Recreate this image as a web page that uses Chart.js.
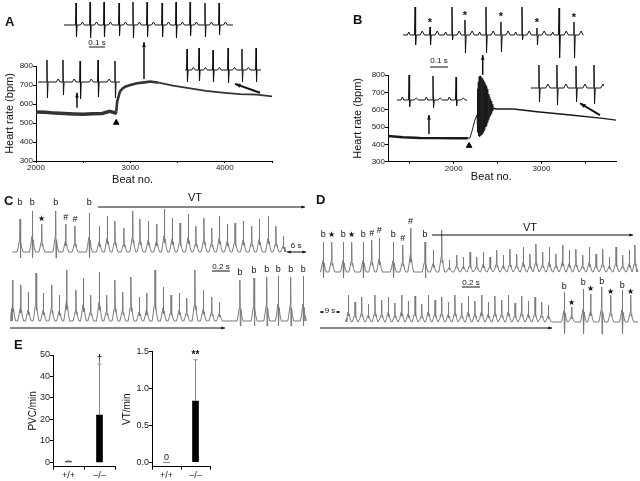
<!DOCTYPE html>
<html>
<head>
<meta charset="utf-8">
<script src="https://cdn.jsdelivr.net/npm/chart.js@4.4.0/dist/chart.umd.min.js"></script>
<style>
  body { margin: 0; background: #fff; }
  #fig { position: relative; width: 640px; height: 481px; overflow: hidden; font-family: "Liberation Sans", Arial, sans-serif; }
  #fig canvas { position: absolute; }
  .tag { position: absolute; font-weight: bold; font-size: 13px; line-height: 13px; color: #111; }
</style>
</head>
<body>
<div id="fig">
  <canvas id="hrA" width="300" height="195" style="left:0;top:0"></canvas>
  <canvas id="hrB" width="310" height="195" style="left:330px;top:0"></canvas>
  <canvas id="insA1" width="176" height="50" style="left:60px;top:0"></canvas>
  <canvas id="insA2" width="84" height="48" style="left:36px;top:55px"></canvas>
  <canvas id="insA3" width="78" height="40" style="left:183px;top:45px"></canvas>
  <canvas id="insB1" width="188" height="72" style="left:400px;top:0"></canvas>
  <canvas id="insB2" width="75" height="40" style="left:395px;top:70px"></canvas>
  <canvas id="insB3" width="76" height="50" style="left:528px;top:60px"></canvas>
  <canvas id="ecgC1" width="300" height="72" style="left:10px;top:188px"></canvas>
  <canvas id="ecgC2" width="300" height="73" style="left:10px;top:262px"></canvas>
  <canvas id="ecgD1" width="324" height="65" style="left:316px;top:215px"></canvas>
  <canvas id="ecgD2" width="324" height="64" style="left:316px;top:274px"></canvas>
  <canvas id="barE1" width="105" height="136" style="left:20px;top:345px"></canvas>
  <canvas id="barE2" width="100" height="136" style="left:115px;top:345px"></canvas>
  <div class="tag" style="left:5px;top:15px">A</div>
  <div class="tag" style="left:353px;top:13px">B</div>
  <div class="tag" style="left:4px;top:194px">C</div>
  <div class="tag" style="left:316px;top:193px">D</div>
  <div class="tag" style="left:14px;top:338px">E</div>
</div>
<script>
// ---- A: heart rate vs beat number
const aBeats = [2000, 2100, 2200, 2300, 2400, 2500, 2600, 2700, 2780, 2840, 2850, 2860, 2875, 2890, 2920, 2950, 3000, 3070, 3150, 3210, 3300, 3450, 3600, 3800, 4000, 4160, 4340, 4500];
const aRate = [558, 556, 552, 550, 548, 546, 549, 550, 561, 553, 560, 613, 640, 666, 683, 692, 700, 709, 714, 718, 712, 697, 685, 669, 659, 652, 649, 640];
const aTicksX = [2000, 2500, 3000, 3500, 4000, 4500];
const aTicksY = [300, 400, 500, 600, 700, 800];

// ---- B: heart rate vs beat number (burst around beat 2300)
const bBeats = [1250, 1420, 1615, 1800, 2000, 2160, 2185, 2210, 2240, 2265,
  2270, 2275, 2280, 2285, 2290, 2295, 2300, 2305, 2310, 2315,
  2320, 2325, 2330, 2335, 2340, 2345, 2350, 2355, 2360, 2365,
  2370, 2375, 2380, 2385, 2390, 2395, 2400, 2405, 2410, 2415,
  2420, 2425, 2430, 2435, 2440, 2445, 2450,
  2480, 2680, 2950, 3330, 3700, 3850];
const bRate = [448, 441, 437, 436, 435, 435, 437, 480, 540, 570,
  720, 470, 760, 450, 790, 445, 795, 450, 790, 455,
  785, 460, 780, 470, 770, 480, 760, 490, 745, 500,
  735, 510, 720, 525, 705, 540, 690, 555, 675, 565,
  660, 575, 650, 585, 630, 595, 610,
  604, 604, 588, 569, 550, 540];
const bTicksX = [1500, 2000, 2500, 3000, 3500];
const bTicksY = [300, 400, 500, 600, 700, 800];

// ---- ECG insets (time in s, amplitude in arbitrary units)
const aTopT = [0.075, 0.163, 0.25, 0.344, 0.431, 0.519, 0.613, 0.7, 0.788, 0.881, 0.969];
const aTopUp = [22, 23, 23, 22, 23, 23, 22, 23, 23, 22, 22];
const aTopDown = [12, 13, 12, 11, 13, 12, 12, 13, 11, 12, 10];
const aLeftT = [0.056, 0.156, 0.263, 0.375, 0.481];
const aLeftUp = [22, 22, 21, 22, 21];
const aLeftDown = [16, 13, 17, 15, 16];
const aRightT = [0.0125, 0.0875, 0.175, 0.269, 0.356, 0.444];
const aRightUp = [21, 22, 20, 22, 21, 22];
const aRightDown = [12, 11, 12, 13, 12, 12];

const bTopT = [0.067, 0.150, 0.272, 0.344, 0.461, 0.544, 0.661, 0.744, 0.867, 0.950];
const bTopUp = [28, 8, 28, 15, 28, 13, 28, 7, 27, 13];
const bTopDown = [10, 10, 5, 18, 18, 17, 5, 10, 23, 23];
const bTopP = [3, 0, 3, 0, 3, 0, 3, 0, 3, 0];
const bTopStars = [[1, 12], [3, 19], [5, 18], [7, 12], [9, 17]];
const bLeftT = [0.067, 0.2, 0.328];
const bLeftUp = [25, 24, 23];
const bLeftDown = [7, 8, 6];
const bRightT = [0.044, 0.144, 0.25, 0.35];
const bRightUp = [23, 23, 22, 23];
const bRightDown = [14, 17, 14, 16];

// ---- C / D telemetry traces (beat time in s, peak amplitude)
const cTopT = [0.089, 0.226, 0.330, 0.485, 0.596, 0.700, 0.859,
  0.970, 1.059, 1.144, 1.244, 1.341, 1.422, 1.515, 1.607, 1.693, 1.781, 1.867, 1.959,
  2.044, 2.133, 2.219, 2.304, 2.393, 2.478, 2.570, 2.663, 2.748, 2.848, 2.933, 3.015];
const cTopAmp = [33, 41, 28, 41, 28, 26, 39,
  26, 36, 31, 24, 41, 33, 31, 28, 43, 34, 29, 38, 26, 34, 24, 36, 28, 29, 31, 26, 33, 36, 26, 16];
const cTopMarks = [[0, 'b', 49], [1, 'b', 49], [2, '★', 33], [3, 'b', 49], [4, '#', 34], [5, '#', 32], [6, 'b', 49]];

const cBotT = [0.007, 0.096, 0.181, 0.267, 0.348, 0.441, 0.526, 0.607, 0.711, 0.793, 0.874, 0.970, 1.052, 1.144,
  1.230, 1.322, 1.415, 1.496, 1.589, 1.681, 1.767, 1.859, 1.941, 2.033, 2.126, 2.219, 2.304,
  2.533, 2.689, 2.830, 2.959, 3.096, 3.237];
const cBotAmp = [41, 36, 29, 48, 28, 36, 26, 51, 31, 43, 26, 49, 26, 41, 29, 44, 24, 28, 51, 34, 26, 28, 23, 51, 31, 24, 19,
  41, 43, 44, 45, 44, 45];
const cBotMarks = [[27, 'b', 48], [28, 'b', 50], [29, 'b', 51], [30, 'b', 51], [31, 'b', 51], [32, 'b', 51]];

const dTopT = [0.037, 0.130, 0.259, 0.352, 0.481, 0.574, 0.659, 0.815, 0.919, 1.007, 1.167,
  1.259, 1.352, 1.437, 1.519, 1.593, 1.667, 1.741, 1.815, 1.889, 1.963, 2.037, 2.111, 2.185, 2.259, 2.333,
  2.400, 2.474, 2.548, 2.622, 2.696, 2.770, 2.844, 2.919, 2.993, 3.067, 3.141, 3.215, 3.289, 3.363, 3.437, 3.500];
const dTopAmp = [30, 30, 30, 30, 30, 32, 34, 30, 27, 44, 30,
  22, 42, 12, 17, 15, 20, 15, 20, 15, 22, 17, 23, 18, 25, 18, 28, 20, 25, 18, 27, 22, 23, 17, 25, 18, 23, 15, 25, 17, 22, 27];
const dTopMarks = [[0, 'b', 37], [1, '★', 37], [2, 'b', 37], [3, '★', 37], [4, 'b', 37], [5, '#', 38], [6, '#', 41],
  [7, 'b', 37], [8, '#', 33], [9, '#', 50], [10, 'b', 37]];

const dBotT = [0.315, 0.389, 0.463, 0.537, 0.611, 0.685, 0.759, 0.833, 0.907, 0.981, 1.056, 1.130, 1.204, 1.278,
  1.352, 1.426, 1.500, 1.574, 1.648, 1.722, 1.796, 1.870, 1.944, 2.019, 2.093, 2.167, 2.241, 2.315, 2.389, 2.463, 2.537,
  2.715, 2.796, 2.926, 3.007, 3.130, 3.230, 3.359, 3.452];
const dBotAmp = [27, 20, 25, 18, 27, 22, 25, 19, 27, 21, 26, 18, 27, 22, 25, 20, 27, 19, 26, 21, 27, 20, 26, 22, 27, 19,
  26, 21, 25, 20, 17, 30, 15, 33, 28, 35, 27, 32, 27];
const dBotMarks = [[31, 'b', 35], [32, '★', 19], [33, 'b', 39], [34, '★', 33], [35, 'b', 40], [36, '★', 30], [37, 'b', 36], [38, '★', 30]];

// ---- E: arrhythmia counts
const eGroups = ['+/+', '–/–'];
const ePvc = [0.4, 22];
const ePvcErr = [0.3, 23.8];
const ePvcTicks = [0, 10, 20, 30, 40, 50];
const eVt = [0, 0.83];
const eVtErr = [0, 0.56];
const eVtTicks = [0, 0.5, 1.0, 1.5];

const FONT = '"Liberation Sans", Arial, sans-serif';
Chart.defaults.font.family = FONT;
Chart.defaults.font.size = 8;
Chart.defaults.color = '#111';

// black ECG: narrow biphasic spike, optional P and T bumps
function inkTrace(times, up, down, end, o) {
  const pts = [{x: 0, y: 0}];
  times.forEach((t, i) => {
    const p = o.p ? o.p[i] : 0;
    if (p) pts.push({x: t - o.pOff - 0.008, y: 0}, {x: t - o.pOff, y: p}, {x: t - o.pOff + 0.008, y: 0});
    pts.push({x: t - 0.003, y: 0}, {x: t, y: up[i]}, {x: t + 0.003, y: -down[i]}, {x: t + 0.007, y: 0});
    if (o.tw) pts.push({x: t + o.tOff - 0.012, y: 0}, {x: t + o.tOff, y: o.tw}, {x: t + o.tOff + 0.012, y: 0});
  });
  pts.push({x: end, y: 0});
  return pts.sort((a, b) => a.x - b.x);
}

// grey telemetry: spike on a rounded hump; sinus ('b') beats dip below baseline
function greyTrace(times, amp, marks, bDip, start, end) {
  const sinus = new Set(marks.filter(m => m[1] === 'b').map(m => m[0]));
  const pts = [{x: start, y: 0}];
  times.forEach((t, i) => {
    const h = amp[i], d = sinus.has(i) ? bDip : 0;
    pts.push({x: t - 0.032, y: 0}, {x: t - 0.02, y: 0.14 * h}, {x: t - 0.01, y: 0.3 * h}, {x: t - 0.003, y: 0.38 * h},
      {x: t, y: h}, {x: t + 0.004, y: d ? -d : 0.22 * h}, {x: t + 0.01, y: 0.3 * h}, {x: t + 0.02, y: 0.12 * h}, {x: t + 0.034, y: 0});
  });
  pts.push({x: end, y: 0});
  return pts.sort((a, b) => a.x - b.x);
}

function markTexts(times, marks) {
  return marks.map(([i, s, h]) => ({at: [times[i], h], text: s,
    font: s === '★' ? '8px "DejaVu Sans"' : '9px ' + FONT}));
}

function drawArrow(ctx, x0, y0, x1, y1, w, head, both) {
  ctx.lineWidth = w;
  ctx.beginPath(); ctx.moveTo(x0, y0); ctx.lineTo(x1, y1); ctx.stroke();
  const tips = both ? [[x1, y1, x0, y0], [x0, y0, x1, y1]] : [[x1, y1, x0, y0]];
  tips.forEach(([tx, ty, fx, fy]) => {
    const ang = Math.atan2(ty - fy, tx - fx);
    ctx.beginPath();
    ctx.moveTo(tx, ty);
    ctx.lineTo(tx - head * Math.cos(ang - 0.38), ty - head * Math.sin(ang - 0.38));
    ctx.lineTo(tx - head * Math.cos(ang + 0.38), ty - head * Math.sin(ang + 0.38));
    ctx.closePath(); ctx.fill();
  });
}

// arrows, scale bars and labels placed in data units
const notes = {
  id: 'notes',
  afterDraw(chart, args, o) {
    const {ctx} = chart, sx = chart.scales.x, sy = chart.scales.y;
    const px = v => sx.getPixelForValue(v), py = v => sy.getPixelForValue(v);
    ctx.save();
    ctx.strokeStyle = ctx.fillStyle = '#111';
    (o.arrows || []).forEach(a => drawArrow(ctx, px(a.from[0]), py(a.from[1]), px(a.to[0]), py(a.to[1]), a.width || 1, a.head || 4, a.both));
    (o.scaleBars || []).forEach(b => {
      ctx.lineWidth = 1;
      ctx.beginPath(); ctx.moveTo(px(b[0]), py(b[2])); ctx.lineTo(px(b[1]), py(b[2])); ctx.stroke();
    });
    ctx.textAlign = 'center'; ctx.textBaseline = 'middle';
    (o.texts || []).forEach(t => {
      ctx.font = t.font || '8px ' + FONT;
      const x = px(t.at[0]), y = py(t.at[1]);
      if (t.clear) {
        const w = ctx.measureText(t.text).width + 2;
        ctx.fillStyle = '#fff'; ctx.fillRect(x - w / 2, y - 5, w, 10); ctx.fillStyle = '#111';
      }
      ctx.fillText(t.text, x, y);
    });
    ctx.restore();
  }
};

function traceChart(id, pts, xr, yr, color, note) {
  return new Chart(document.getElementById(id), {
    type: 'line',
    data: { datasets: [{ data: pts, borderColor: color, borderWidth: 1, pointRadius: 0, tension: 0 }] },
    options: {
      responsive: false, animation: false,
      layout: { padding: 0, autoPadding: false },
      scales: {
        x: { type: 'linear', display: false, min: xr[0], max: xr[1] },
        y: { display: false, min: yr[0], max: yr[1] }
      },
      plugins: { legend: { display: false }, tooltip: { enabled: false }, notes: note || {} }
    },
    plugins: [notes]
  });
}

function axisX(min, max, ticks, height, title) {
  return {
    type: 'linear', min: min, max: max,
    afterBuildTicks: s => { s.ticks = ticks.map(v => ({value: v})); },
    afterFit: s => { s.height = height; },
    ticks: { callback: v => (v % 1000 ? '' : v), padding: 0, maxRotation: 0, autoSkip: false, color: '#222' },
    grid: { drawOnChartArea: false, tickLength: 2, color: '#000' },
    border: { color: '#000' },
    title: { display: true, text: title, font: { size: 11 }, padding: 0, color: '#111' }
  };
}

function axisY(ticks, width, titlePad) {
  return {
    min: ticks[0], max: ticks[ticks.length - 1],
    afterBuildTicks: s => { s.ticks = ticks.map(v => ({value: v})); },
    afterFit: s => { s.width = width; },
    ticks: { padding: 0, color: '#222' },
    grid: { drawOnChartArea: false, tickLength: 3, color: '#000' },
    border: { color: '#000' },
    title: { display: true, text: 'Heart rate (bpm)', font: { size: 11 }, padding: { top: titlePad, bottom: 0 }, color: '#111' }
  };
}

// ---- A main
new Chart(document.getElementById('hrA'), {
  type: 'line',
  data: { datasets: [
    { data: aBeats.map((b, i) => ({x: b, y: aRate[i]})), borderColor: '#333', borderWidth: 2, pointRadius: 0,
      segment: { borderWidth: c => (c.p0.parsed.x < 2850 ? 3.5 : c.p0.parsed.x < 3300 ? 2.6 : 1.8) } },
    { data: [{x: 2850, y: 502}], showLine: false, pointStyle: 'triangle', pointRadius: 3.2, backgroundColor: '#000', borderColor: '#000' }
  ]},
  options: {
    responsive: false, animation: false,
    layout: { padding: { top: 66, right: 28, bottom: 8, left: 0 }, autoPadding: false },
    scales: { x: axisX(2000, 4500, aTicksX, 26, 'Beat no.' + '\u00a0'.repeat(14)), y: axisY(aTicksY, 36, 3) },
    plugins: { legend: { display: false }, tooltip: { enabled: false },
      notes: { arrows: [
        { from: [2434, 580], to: [2434, 659], width: 1.5, head: 5 },
        { from: [3144, 732], to: [3144, 925], width: 1.5, head: 5 },
        { from: [4373, 659], to: [4108, 706], width: 2, head: 6 }
      ] } }
  },
  plugins: [notes]
});

// ---- B main
new Chart(document.getElementById('hrB'), {
  type: 'line',
  data: { datasets: [
    { data: bBeats.map((b, i) => ({x: b, y: bRate[i]})), borderColor: '#1a1a1a', borderWidth: 1.3, pointRadius: 0,
      segment: { borderWidth: c => (c.p0.parsed.x < 2160 ? 2.4 : c.p0.parsed.x < 2450 ? 1 : 1.4) } },
    { data: [{x: 2175, y: 392}], showLine: false, pointStyle: 'triangle', pointRadius: 3.2, backgroundColor: '#000', borderColor: '#000' }
  ]},
  options: {
    responsive: false, animation: false,
    layout: { padding: { top: 75, right: 24, bottom: 11.3, left: 0 }, autoPadding: false },
    scales: { x: axisX(1250, 3850, bTicksX, 22, 'Beat no.' + '\u00a0'.repeat(7)), y: axisY(bTicksY, 58, 21.4) },
    plugins: { legend: { display: false }, tooltip: { enabled: false },
      notes: { arrows: [
        { from: [1717, 460], to: [1717, 570], width: 1.5, head: 5 },
        { from: [2330, 800], to: [2330, 915], width: 1.5, head: 5 },
        { from: [3667, 569], to: [3440, 637], width: 2, head: 6 }
      ] } }
  },
  plugins: [notes]
});

// ---- insets
traceChart('insA1', inkTrace(aTopT, aTopUp, aTopDown, 1.056, { tw: 3, tOff: 0.04 }), [-0.025, 1.075], [-25, 25], '#111',
  { scaleBars: [[0.156, 0.256, -22]], texts: [{ at: [0.206, -17.5], text: '0.1 s' }] });
traceChart('insA2', inkTrace(aLeftT, aLeftUp, aLeftDown, 0.494, { tw: 3, tOff: 0.07 }), [-0.0125, 0.5125], [-21, 27], '#111');
traceChart('insA3', inkTrace(aRightT, aRightUp, aRightDown, 0.45, { tw: 2.5, tOff: 0.04 }), [-0.0125, 0.475], [-15, 25], '#111');
traceChart('insB1', inkTrace(bTopT, bTopUp, bTopDown, 1.0, { p: bTopP, pOff: 0.035, tw: 4, tOff: 0.04 }), [-0.0167, 1.0278], [-37, 35], '#111',
  { scaleBars: [[0.15, 0.25, -32]],
    texts: [{ at: [0.2, -26], text: '0.1 s' }].concat(bTopStars.map(([i, h]) => ({ at: [bTopT[i], h], text: '*', font: 'bold 11px ' + FONT }))) });
traceChart('insB2', inkTrace(bLeftT, bLeftUp, bLeftDown, 0.389, { p: [3, 3, 3], pOff: 0.037, tw: 2, tOff: 0.04 }), [-0.0111, 0.4056], [-10, 30], '#111');
traceChart('insB3', inkTrace(bRightT, bRightUp, bRightDown, 0.383, { tw: 4, tOff: 0.05 }), [-0.0167, 0.4056], [-22, 28], '#111');

// ---- C traces
traceChart('ecgC1', greyTrace(cTopT, cTopAmp, cTopMarks, 6, 0, 3.033), [-0.0222, 3.3111], [-8, 64], '#7a7a7a', {
  arrows: [{ from: [0.956, 45], to: [3.256, 45], head: 4 }, { from: [3.056, 0], to: [3.267, 0], head: 4, both: true }],
  texts: [{ at: [2.033, 54], text: 'VT', font: '11px ' + FONT }, { at: [3.156, 6], text: '6 s' }].concat(markTexts(cTopT, cTopMarks))
});
traceChart('ecgC2', greyTrace(cBotT, cBotAmp, cBotMarks, 5, 0, 3.256), [-0.0222, 3.3111], [-14, 59], '#7a7a7a', {
  arrows: [{ from: [-0.022, -7], to: [2.367, -7], head: 4 }],
  scaleBars: [[2.222, 2.422, 50]],
  texts: [{ at: [2.322, 54.5], text: '0.2 s' }].concat(markTexts(cBotT, cBotMarks))
});

// ---- D traces
traceChart('ecgD1', greyTrace(dTopT, dTopAmp, dTopMarks, 6, 0, 3.519), [-0.0444, 3.5556], [-8, 57], '#7a7a7a', {
  arrows: [{ from: [1.244, 37], to: [3.478, 37], head: 4 }],
  texts: [{ at: [2.333, 44], text: 'VT', font: '11px ' + FONT }].concat(markTexts(dTopT, dTopMarks))
});
traceChart('ecgD2', greyTrace(dBotT, dBotAmp, dBotMarks, 12, 0.296, 3.537), [-0.0444, 3.5556], [-16, 48], '#7a7a7a', {
  arrows: [{ from: [0, -6], to: [2.578, -6], head: 4 }, { from: [0, 10], to: [0.222, 10], head: 3.5, both: true }],
  scaleBars: [[1.578, 1.778, 35]],
  texts: [{ at: [0.111, 11], text: '9 s', clear: true }, { at: [1.678, 39.5], text: '0.2 s' }].concat(markTexts(dBotT, dBotMarks))
});

// ---- E bars with error bars
const errorBars = {
  id: 'errorBars',
  afterDatasetsDraw(chart, args, o) {
    const {ctx} = chart, y = chart.scales.y;
    const vals = chart.data.datasets[0].data;
    chart.getDatasetMeta(0).data.forEach((bar, i) => {
      const top = y.getPixelForValue(vals[i] + o.err[i]);
      ctx.save();
      if (o.err[i] > 0.5 * (y.max - y.min) / 100) {
        ctx.strokeStyle = '#888'; ctx.lineWidth = 1;
        ctx.beginPath();
        ctx.moveTo(bar.x, bar.y); ctx.lineTo(bar.x, top);
        ctx.moveTo(bar.x - 2, top); ctx.lineTo(bar.x + 2, top);
        ctx.stroke();
      }
      if (o.marks[i]) {
        ctx.fillStyle = '#111'; ctx.textAlign = 'center'; ctx.textBaseline = 'alphabetic';
        ctx.font = o.fonts[i];
        ctx.fillText(o.marks[i], bar.x, top - 2);
      }
      ctx.restore();
    });
  }
};

function barChart(id, values, err, ticks, min, title, width, pad, titlePad, marks, fonts, fmt) {
  return new Chart(document.getElementById(id), {
    type: 'bar',
    data: { labels: eGroups, datasets: [{ data: values, backgroundColor: '#000', barThickness: 6 }] },
    options: {
      responsive: false, animation: false,
      layout: { padding: pad, autoPadding: false },
      scales: {
        x: { afterFit: s => { s.height = 14.3; }, ticks: { font: { size: 9 }, padding: 0, color: '#222' },
             grid: { drawOnChartArea: false, tickLength: 3, color: '#000' }, border: { color: '#000' } },
        y: { min: min, max: ticks[ticks.length - 1],
             afterBuildTicks: s => { s.ticks = ticks.map(v => ({value: v})); },
             afterFit: s => { s.width = width; },
             ticks: { font: { size: 9 }, padding: 0, color: '#222', callback: fmt },
             grid: { drawOnChartArea: false, tickLength: 3, color: '#000' }, border: { color: '#000' },
             title: { display: true, text: title, font: { size: 10 }, padding: { top: titlePad, bottom: 0 }, color: '#111' } }
      },
      plugins: { legend: { display: false }, tooltip: { enabled: false }, errorBars: { err: err, marks: marks, fonts: fonts } }
    },
    plugins: [errorBars]
  });
}

barChart('barE1', ePvc, ePvcErr, ePvcTicks, -2, 'PVC/min', 33, { top: 10, right: 10, bottom: 0, left: 0 }, 7,
  ['', '†'], ['', '10px ' + FONT], v => v);
barChart('barE2', eVt, eVtErr, eVtTicks, -0.06, 'VT/min', 37, { top: 6.7, right: 5, bottom: 0, left: 0 }, 6,
  ['0', '**'], ['9px ' + FONT, 'bold 10px ' + FONT], v => v.toFixed(1));
</script>
</body>
</html>
